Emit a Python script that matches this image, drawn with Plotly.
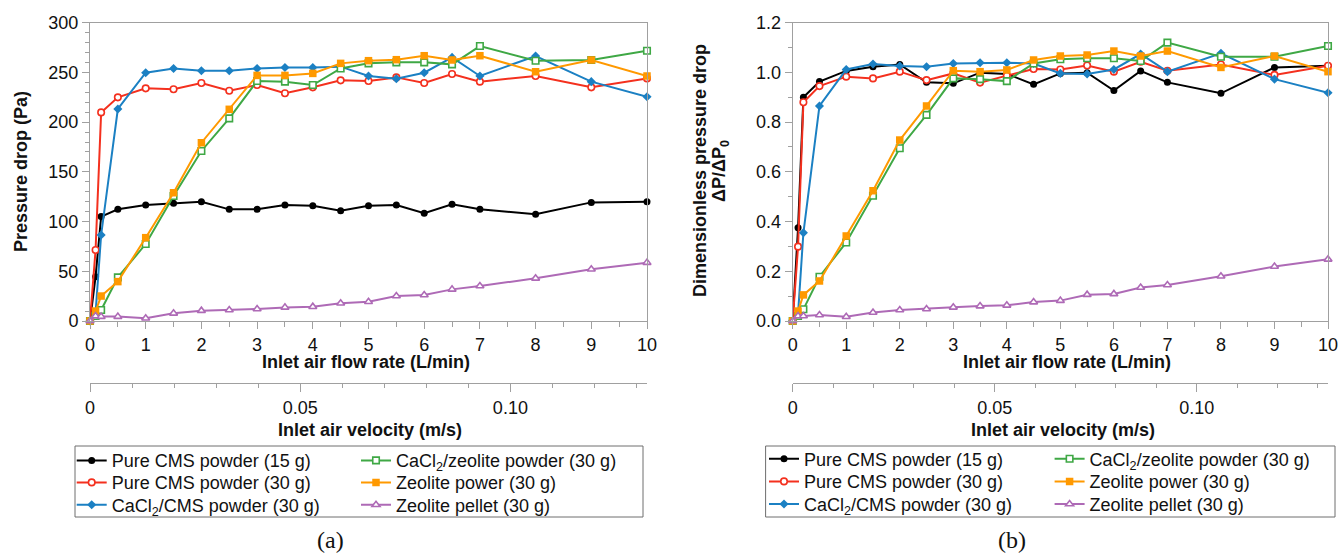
import plotly.graph_objects as go

# ---------------- data ----------------
flow = [0, 0.1, 0.2, 0.5, 1, 1.5, 2, 2.5, 3, 3.5, 4, 4.5, 5, 5.5, 6, 6.5, 7, 8, 9, 10]

names = [
    "Pure CMS powder (15 g)",
    "Pure CMS powder (30 g)",
    "CaCl<sub>2</sub>/CMS powder (30 g)",
    "CaCl<sub>2</sub>/zeolite powder (30 g)",
    "Zeolite power (30 g)",
    "Zeolite pellet (30 g)",
]

# (a) pressure drop (Pa)
pa_cms15 = [0, 44.6, 105, 112.3, 116.7, 118.3, 120, 112.3, 112.3, 116.7, 116, 111, 116, 116.7, 108.3, 117.3, 112.3, 107.3, 119.3, 120]
pa_cms30 = [0, 71.4, 209.8, 224.9, 234, 233, 239.3, 231.6, 237.3, 229, 235, 242, 241.3, 245, 239.3, 248.4, 240.7, 246.4, 235, 244]
pa_cacl2_cms = [0, 8, 86.5, 213.2, 249.7, 254, 251.7, 251.7, 254, 255, 255, 255.8, 246.4, 243.7, 249.7, 265.1, 246.4, 266.5, 240.7, 225.6]
pa_cacl2_zeo = [0, 5, 11, 43.9, 77.4, 125.7, 171, 203.8, 241.3, 240.7, 237.3, 254, 259.1, 260.1, 260.1, 258.1, 276.5, 261.8, 262.5, 271.8]
pa_zeo_powder = [0, 10, 25.1, 39.6, 83.8, 129, 179.3, 212.9, 247, 247, 249, 259.1, 261.8, 262.8, 266.8, 262.5, 266.8, 250.7, 262.5, 246.4]
pa_zeo_pellet = [0, 5, 4.4, 4.4, 2.7, 7.7, 10.4, 11, 12, 13.7, 14.4, 17.8, 19.4, 25.1, 26.1, 31.8, 35.2, 42.9, 52, 58.7]

# (b) dimensionless pressure drop dP/dP0
dp_cms15 = [0, 0.375, 0.900, 0.963, 1.006, 1.023, 1.032, 0.960, 0.956, 0.999, 0.994, 0.952, 0.996, 0.999, 0.927, 1.006, 0.960, 0.916, 1.020, 1.027]
dp_cms30 = [0, 0.299, 0.880, 0.945, 0.983, 0.976, 1.003, 0.969, 0.996, 0.959, 0.987, 1.014, 1.012, 1.028, 1.003, 1.043, 1.007, 1.032, 0.990, 1.027]
dp_cacl2_cms = [0, 0.03, 0.355, 0.865, 1.012, 1.034, 1.026, 1.023, 1.036, 1.039, 1.039, 1.036, 0.996, 0.994, 1.012, 1.074, 1.003, 1.077, 0.973, 0.918]
dp_cacl2_zeo = [0, 0.02, 0.047, 0.178, 0.316, 0.504, 0.695, 0.829, 0.976, 0.973, 0.965, 1.036, 1.053, 1.057, 1.057, 1.046, 1.120, 1.063, 1.063, 1.106]
dp_zeo_powder = [0, 0.04, 0.105, 0.161, 0.342, 0.524, 0.728, 0.865, 1.007, 1.003, 1.010, 1.050, 1.066, 1.070, 1.086, 1.066, 1.086, 1.020, 1.066, 1.003]
dp_zeo_pellet = [0, 0.02, 0.02, 0.024, 0.017, 0.034, 0.044, 0.048, 0.055, 0.060, 0.063, 0.076, 0.082, 0.106, 0.109, 0.135, 0.145, 0.180, 0.219, 0.248]

velocity_max = 0.1325  # m/s at 10 L/min
velocity_ticks = [0, 0.05, 0.10]
velocity_ticktext = ["0", "0.05", "0.10"]

left_series = [pa_cms15, pa_cms30, pa_cacl2_cms, pa_cacl2_zeo, pa_zeo_powder, pa_zeo_pellet]
right_series = [dp_cms15, dp_cms30, dp_cacl2_cms, dp_cacl2_zeo, dp_zeo_powder, dp_zeo_pellet]

# ---------------- styles ----------------
W, H = 1338, 555
FONT = "Arial, Liberation Sans, sans-serif"
AXC = "#a0a0a0"

styles = [
    dict(color="#000000", symbol="circle", size=7, filled=True),
    dict(color="#f4301e", symbol="circle", size=6.5, filled=False),
    dict(color="#1b80c3", symbol="diamond", size=7, filled=True),
    dict(color="#3fa845", symbol="square", size=6.5, filled=False),
    dict(color="#ff9900", symbol="square", size=7.5, filled=True),
    dict(color="#ae6ab6", symbol="triangle-up", size=7, filled=False),
]


def fx(p):
    return p / W


def fy(p):
    return 1 - p / H


fig = go.Figure()

panels = [("x", "y", left_series), ("x2", "y2", right_series)]
legend_cols = [[71.7, 356.0], [764.0, 1049.6]]
legend_rows = [[460.7, 482.7, 505.0], [459.0, 481.7, 504.3]]

legend_layouts = {}
for pi, (xa, ya, series) in enumerate(panels):
    for si, vals in enumerate(series):
        st = styles[si]
        idx = pi * 6 + si + 1
        key = "legend" if idx == 1 else f"legend{idx}"
        fig.add_trace(go.Scatter(
            x=flow, y=vals, xaxis=xa, yaxis=ya,
            mode="lines+markers", name=names[si],
            line=dict(color=st["color"], width=2),
            marker=dict(symbol=st["symbol"], size=st["size"],
                        color=st["color"] if st["filled"] else "white",
                        line=dict(color=st["color"], width=0 if st["filled"] else 1.6)),
            cliponaxis=False, legend=key, showlegend=True,
        ))
        col, row = si // 3, si % 3
        legend_layouts[key] = dict(
            x=fx(legend_cols[pi][col]), y=fy(legend_rows[pi][row]),
            xanchor="left", yanchor="middle",
            font=dict(family=FONT, size=18, color="#111111"),
            bgcolor="rgba(0,0,0,0)", borderwidth=0,
        )

# dummy traces to attach velocity axes
fig.add_trace(go.Scatter(x=[], y=[], xaxis="x3", yaxis="y", showlegend=False, hoverinfo="skip"))
fig.add_trace(go.Scatter(x=[], y=[], xaxis="x4", yaxis="y2", showlegend=False, hoverinfo="skip"))

common_axis = dict(showline=True, linecolor=AXC, linewidth=1, showgrid=False, zeroline=False,
                   ticks="outside", tickcolor=AXC, tickwidth=1, ticklabeloverflow="allow",
                   tickfont=dict(family=FONT, size=18, color="#111111"), automargin=False)

ydom = [fy(321), fy(22.7)]
vel_pos = fy(383)

layout_axes = dict(
    xaxis=dict(common_axis, domain=[fx(90), fx(647)], anchor="y", range=[0, 10], tick0=0, dtick=1,
               ticklen=7, mirror=True,
               minor=dict(dtick=0.5, ticks="outside", ticklen=5, tickcolor=AXC)),
    yaxis=dict(common_axis, domain=ydom, anchor="x", range=[0, 300], tick0=0, dtick=50,
               ticklen=7, mirror=True,
               minor=dict(dtick=10, ticks="outside", ticklen=4, tickcolor=AXC)),
    xaxis2=dict(common_axis, domain=[fx(792.7), fx(1328)], anchor="y2", range=[0, 10], tick0=0, dtick=1,
                ticklen=7, mirror=True,
                minor=dict(dtick=0.5, ticks="outside", ticklen=5, tickcolor=AXC)),
    yaxis2=dict(common_axis, domain=ydom, anchor="x2", range=[0, 1.2], tick0=0, dtick=0.2,
                tickformat=".1f", ticklen=7, mirror=True,
                minor=dict(dtick=0.1, ticks="outside", ticklen=4, tickcolor=AXC)),
    xaxis3=dict(common_axis, overlaying="x", anchor="free", position=vel_pos, side="bottom",
                range=[0, velocity_max], tickmode="array", tickvals=velocity_ticks,
                ticktext=velocity_ticktext, ticklen=8,
                minor=dict(tickmode="linear", tick0=0, dtick=0.01, ticks="outside", ticklen=4, tickcolor=AXC)),
    xaxis4=dict(common_axis, overlaying="x2", anchor="free", position=vel_pos, side="bottom",
                range=[0, velocity_max], tickmode="array", tickvals=velocity_ticks,
                ticktext=velocity_ticktext, ticklen=8,
                minor=dict(tickmode="linear", tick0=0, dtick=0.01, ticks="outside", ticklen=4, tickcolor=AXC)),
)

title_font = dict(family=FONT, size=18, color="#111111")


def ann(text, x, y, angle=0, font=title_font):
    return dict(text=text, x=fx(x), y=fy(y), xref="paper", yref="paper",
                xanchor="center", yanchor="middle", showarrow=False, textangle=angle, font=font)


caption_font = dict(family="Liberation Serif, Times New Roman, serif", size=24, color="#111111")
annotations = [
    ann("<b>Pressure drop (Pa)</b>", 21, 172, -90),
    ann("<b>Dimensionless pressure drop</b>", 700, 171, -90),
    ann("<b>ΔP/ΔP<sub>0</sub></b>", 721, 171, -90),
    ann("<b>Inlet air flow rate (L/min)</b>", 366, 362),
    ann("<b>Inlet air velocity (m/s)</b>", 370, 430),
    ann("<b>Inlet air flow rate (L/min)</b>", 1067, 362),
    ann("<b>Inlet air velocity (m/s)</b>", 1063, 430),
    ann("(a)", 330, 540, 0, caption_font),
    ann("(b)", 1012, 540, 0, caption_font),
]

shapes = [
    dict(type="rect", xref="paper", yref="paper", x0=fx(75), x1=fx(643), y0=fy(517), y1=fy(446),
         line=dict(color="#6e6e6e", width=1)),
    dict(type="rect", xref="paper", yref="paper", x0=fx(765.6), x1=fx(1335), y0=fy(517), y1=fy(446),
         line=dict(color="#6e6e6e", width=1)),
]

fig.update_layout(
    width=W, height=H, margin=dict(l=0, r=0, t=0, b=0),
    paper_bgcolor="white", plot_bgcolor="white",
    font=dict(family=FONT, size=18, color="#111111"),
    showlegend=True, annotations=annotations, shapes=shapes,
    **layout_axes, **legend_layouts,
)

fig.write_html("out.html", config={"displayModeBar": False},
               post_script="document.body.style.margin='0';")
